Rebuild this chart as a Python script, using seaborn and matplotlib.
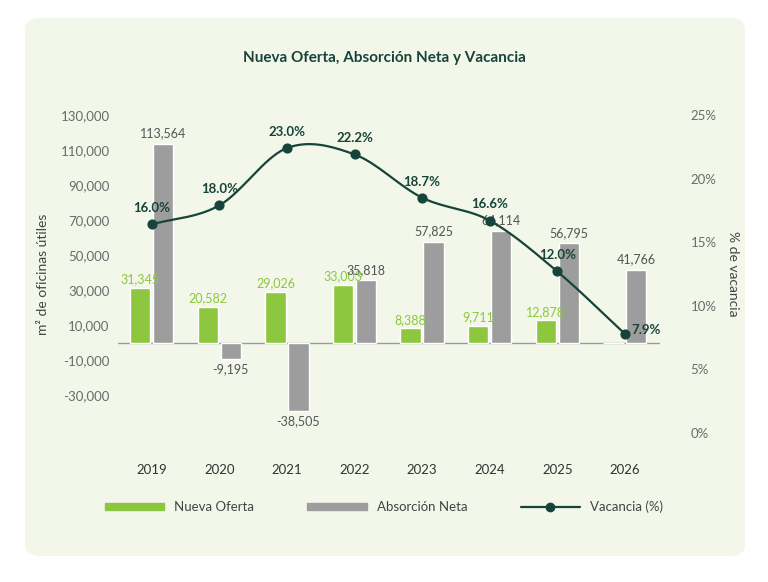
import numpy as np
import matplotlib
matplotlib.use("Agg")
import matplotlib.pyplot as plt
import seaborn as sb
from matplotlib.patches import FancyBboxPatch
from matplotlib.lines import Line2D
from matplotlib.patches import Patch

years = ["2019", "2020", "2021", "2022", "2023", "2024", "2025", "2026"]
nueva_oferta = [31345, 20582, 29026, 33003, 8388, 9711, 12878, 0]
absorcion = [113564, -9195, -38505, 35818, 57825, 64114, 56795, 41766]
vacancia_pos = [16.4, 17.9, 22.4, 21.9, 18.5, 16.7, 12.7, 7.8]
vacancia_lbl = ["16.0%", "18.0%", "23.0%", "22.2%", "18.7%", "16.6%", "12.0%", "7.9%"]

green = "#8dc63f"
grey = "#9d9d9d"
dark = "#17443a"
tick_c = "#6b6b6b"

sb.set_style("white")
plt.rcParams["font.family"] = ["Lato", "DejaVu Sans"]

fig = plt.figure(figsize=(7.68, 5.82), dpi=100)
fig.patch.set_facecolor("white")
fig.patches.append(FancyBboxPatch((25 / 768, 26 / 582), 720 / 768, 538 / 582,
                                  boxstyle="round,pad=0,rounding_size=0.02",
                                  transform=fig.transFigure, facecolor="#f2f7ea",
                                  edgecolor="none", zorder=-10))
ax = fig.add_axes([118 / 768, 149 / 582, 542 / 768, 318 / 582])
ax.set_facecolor("none")

x = np.arange(len(years))
w = 0.3
ax.bar(x - 0.17, nueva_oferta, width=w, color=green, zorder=2)
ax.bar(x + 0.17, absorcion, width=w, color=grey, zorder=2)
ax.axhline(0, color="#9a9a9a", lw=1, zorder=1)
for i in range(len(years)):
    if nueva_oferta[i] > 0:
        ax.text(x[i] - 0.17, nueva_oferta[i] + 1500, f"{nueva_oferta[i]:,}",
                ha="center", va="bottom", color=green, fontsize=9)
    v = absorcion[i]
    if v >= 0:
        ax.text(x[i] + 0.17, v + 2500, f"{v:,}", ha="center", va="bottom", color="#555555", fontsize=9)
    else:
        ax.text(x[i] + 0.17, v - 2500, f"{v:,}", ha="center", va="top", color="#555555", fontsize=9)

ax.set_xlim(-0.5, 7.52)
ax.set_ylim(-51300, 130000)
ax.set_yticks(range(-30000, 130001, 20000))
ax.set_yticklabels([f"{t:,}" for t in range(-30000, 130001, 20000)])
ax.set_xticks(x)
ax.set_xticklabels(years)
ax.tick_params(axis="x", length=0, pad=22, colors="#333333", labelsize=9.5)
ax.tick_params(axis="y", length=0, colors=tick_c, labelsize=9.5, pad=6)
ax.set_ylabel("m² de oficinas útiles", color="#444444", fontsize=10, labelpad=8)
for s in ax.spines.values():
    s.set_visible(False)

ax2 = ax.twinx()
ax2.set_ylim(0, 25)
ax2.set_yticks([0, 5, 10, 15, 20, 25])
ax2.set_yticklabels(["0%", "5%", "10%", "15%", "20%", "25%"])
ax2.tick_params(axis="y", length=0, colors=tick_c, labelsize=9.5, pad=22)
ax2.set_ylabel("% de vacancia", color="#444444", fontsize=10, rotation=270, labelpad=16)
for s in ax2.spines.values():
    s.set_visible(False)

# smooth curve (Catmull-Rom) through vacancy points
px = np.array(x, dtype=float)
py = np.array(vacancia_pos)
P = np.column_stack([px, py])
P = np.vstack([P[0] * 2 - P[1], P, P[-1] * 2 - P[-2]])
cx, cy = [], []
for k in range(1, len(P) - 2):
    p0, p1, p2, p3 = P[k - 1], P[k], P[k + 1], P[k + 2]
    for t in np.linspace(0, 1, 20):
        pt = 0.5 * ((2 * p1) + (-p0 + p2) * t + (2 * p0 - 5 * p1 + 4 * p2 - p3) * t ** 2
                    + (-p0 + 3 * p1 - 3 * p2 + p3) * t ** 3)
        cx.append(pt[0]); cy.append(pt[1])
sb.lineplot(x=cx, y=cy, ax=ax2, color=dark, lw=1.6, sort=False, zorder=3)
ax2.scatter(px, py, color=dark, s=40, zorder=4)
for i in range(len(years)):
    if i < 7:
        ax2.text(px[i], py[i] + 0.8, vacancia_lbl[i], ha="center", va="bottom",
                 color=dark, fontsize=9.5, fontweight="bold")
    else:
        ax2.text(px[i] + 0.1, py[i] + 0.3, vacancia_lbl[i], ha="left", va="center",
                 color=dark, fontsize=9.5, fontweight="bold")

fig.text(0.5, 524 / 582, "Nueva Oferta, Absorción Neta y Vacancia", ha="center", va="center",
         color=dark, fontsize=11, fontweight="bold")

handles = [Patch(color=green, label="Nueva Oferta"),
           Patch(color=grey, label="Absorción Neta"),
           Line2D([0], [0], color=dark, marker="o", lw=1.6, label="Vacancia (%)")]
leg = fig.legend(handles=handles, loc="center", bbox_to_anchor=(0.5, 75 / 582), ncol=3,
                 frameon=False, fontsize=9.5, handlelength=4.5, handleheight=0.5,
                 columnspacing=4)
for t in leg.get_texts():
    t.set_color("#444444")

fig.savefig("out.png", dpi=100)
